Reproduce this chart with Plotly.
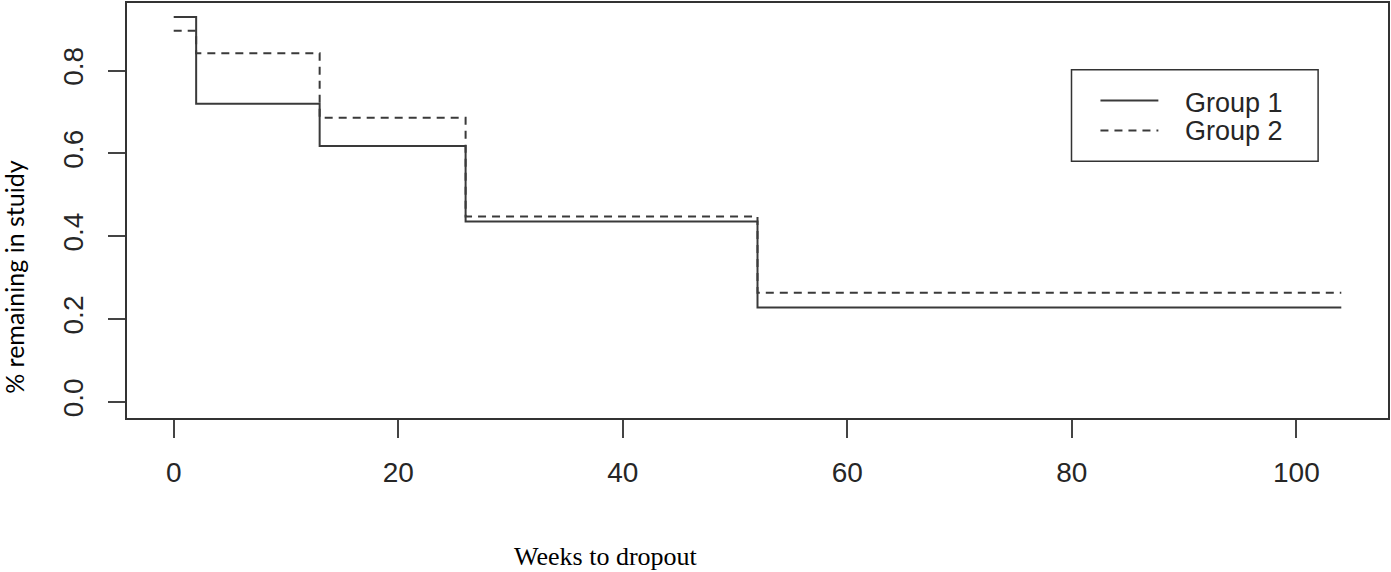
import plotly.graph_objects as go

# Data (Kaplan-Meier style step curves)
weeks = [0, 2, 13, 26, 52, 104]
group1 = [0.929, 0.720, 0.618, 0.436, 0.228, 0.228]
group2 = [0.896, 0.842, 0.686, 0.448, 0.264, 0.264]
x_ticks = [0, 20, 40, 60, 80, 100]
y_ticks = [0.0, 0.2, 0.4, 0.6, 0.8]
series_names = ["Group 1", "Group 2"]

W, H = 1391, 572
L, R, T, B = 127, 1, 1, 154
pw, ph = W - L - R, H - T - B

def px(x):
    return (x - L) / pw

def py(y):
    return (H - B - y) / ph

line_col = "#3a3a3a"

fig = go.Figure()
fig.add_trace(go.Scatter(x=weeks, y=group1, mode="lines", line_shape="hv",
                         line=dict(color=line_col, width=2), name=series_names[0],
                         showlegend=False))
fig.add_trace(go.Scatter(x=weeks, y=group2, mode="lines", line_shape="hv",
                         line=dict(color=line_col, width=2, dash="8px,6px"),
                         name=series_names[1], showlegend=False))

tick_font = dict(family="Liberation Sans, Arial, sans-serif", size=28, color="#262626")

fig.update_layout(
    width=W, height=H,
    margin=dict(l=L, r=R, t=T, b=B, pad=0),
    plot_bgcolor="white", paper_bgcolor="white",
    xaxis=dict(range=[-4.16, 108.16], tickvals=x_ticks, ticktext=[str(v) for v in x_ticks],
               showgrid=False, zeroline=False, showline=True, linecolor="#333333",
               linewidth=1.5, mirror=True, ticks="outside", ticklen=18, tickwidth=1.5,
               tickcolor="#444444", tickfont=tick_font, ticklabelstandoff=11),
    yaxis=dict(range=[-0.0384, 0.963], tickvals=y_ticks,
               ticktext=[f"{v:.1f}" for v in y_ticks],
               showgrid=False, zeroline=False, showline=True, linecolor="#333333",
               linewidth=1.5, mirror=True, ticks="outside", ticklen=17, tickwidth=1.5,
               tickcolor="#444444", tickfont=tick_font, tickangle=-90,
               ticklabelstandoff=14),
)

# Axis titles
fig.add_annotation(text="Weeks to dropout", xref="paper", yref="paper",
                   x=px(607), y=py(557), showarrow=False, xanchor="center", yanchor="middle",
                   font=dict(family="Liberation Serif, Times New Roman, serif", size=26, color="black"))
fig.add_annotation(text="% remaining in stuidy", xref="paper", yref="paper",
                   x=px(14), y=py(276), showarrow=False, textangle=-90,
                   xanchor="center", yanchor="middle",
                   font=dict(family="Lato, Open Sans, sans-serif", size=25, color="black"))

# Legend (drawn as in base R)
fig.add_shape(type="rect", xref="paper", yref="paper",
              x0=px(1073), x1=px(1320), y0=py(68), y1=py(160),
              line=dict(color="#333333", width=1.5), fillcolor="white")
fig.add_shape(type="line", xref="paper", yref="paper",
              x0=px(1102), x1=px(1160), y0=py(99), y1=py(99),
              line=dict(color=line_col, width=2))
fig.add_shape(type="line", xref="paper", yref="paper",
              x0=px(1102), x1=px(1160), y0=py(129), y1=py(129),
              line=dict(color=line_col, width=2, dash="8px,6px"))
for name, yc in zip(series_names, [101, 130]):
    fig.add_annotation(text=name, xref="paper", yref="paper",
                       x=px(1185), y=py(yc), showarrow=False, xanchor="left", yanchor="middle",
                       font=dict(family="Liberation Sans, Arial, sans-serif", size=27, color="#262626"))

fig.write_html("out.html")
